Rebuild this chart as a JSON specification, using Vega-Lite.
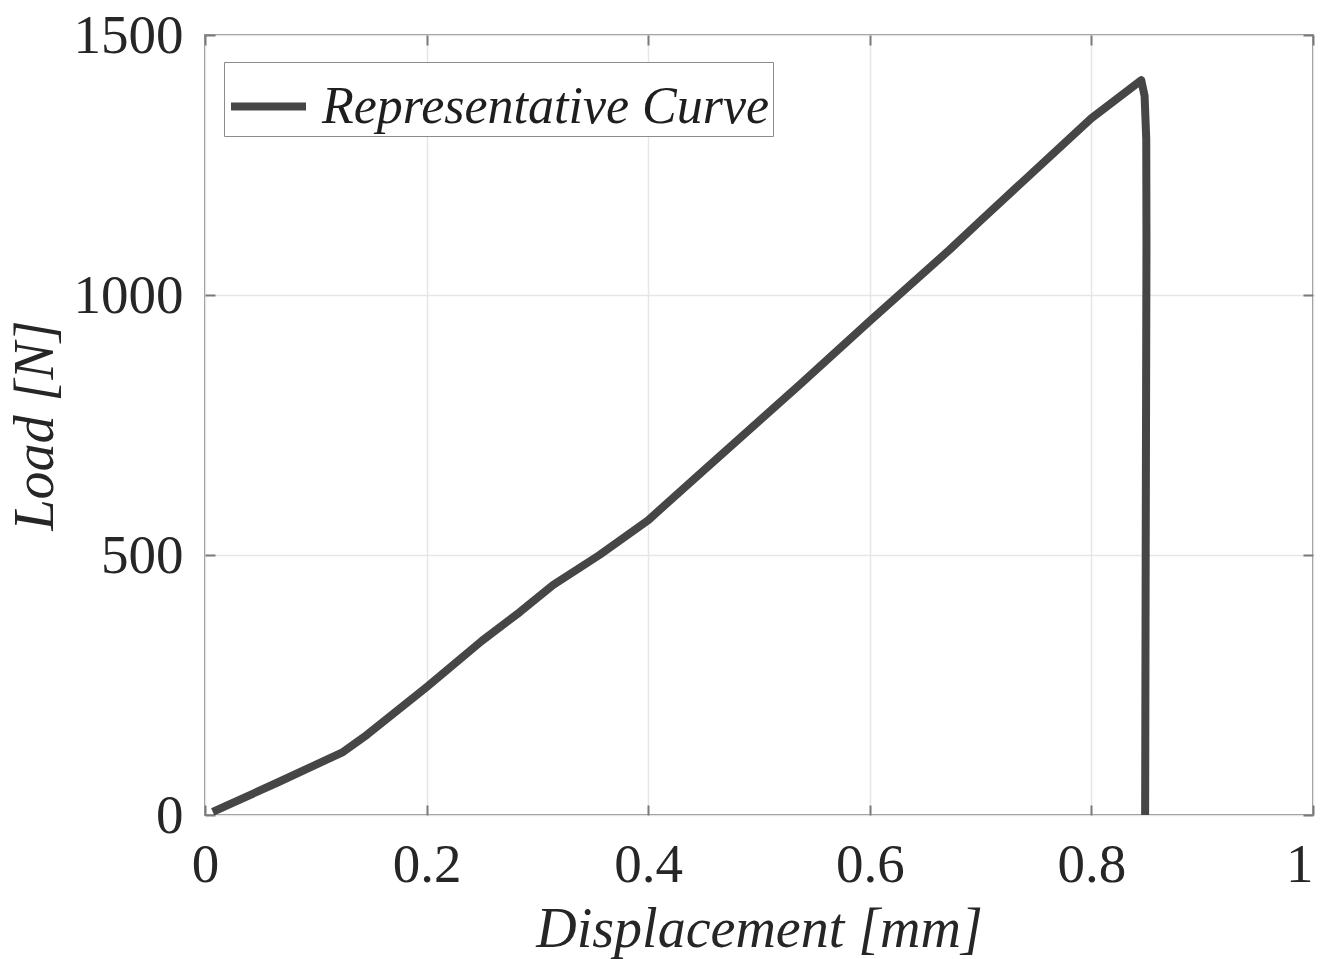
{
  "$schema": "https://vega.github.io/schema/vega-lite/v6.json",
  "width": 1108,
  "height": 780,
  "autosize": {"type": "none"},
  "padding": {"left": 205, "top": 35, "right": 9, "bottom": 144},
  "background": "white",
  "config": {
    "font": "Liberation Serif",
    "view": {"stroke": "#8c8c8c", "strokeWidth": 2}
  },
  "data": {
    "values": [
      {"i": 0, "displacement": 0.007, "load": 6, "series": "Representative Curve"},
      {"i": 1, "displacement": 0.065, "load": 62, "series": "Representative Curve"},
      {"i": 2, "displacement": 0.1245, "load": 121, "series": "Representative Curve"},
      {"i": 3, "displacement": 0.146, "load": 154, "series": "Representative Curve"},
      {"i": 4, "displacement": 0.2, "load": 246, "series": "Representative Curve"},
      {"i": 5, "displacement": 0.25, "load": 335, "series": "Representative Curve"},
      {"i": 6, "displacement": 0.284, "load": 390, "series": "Representative Curve"},
      {"i": 7, "displacement": 0.314, "load": 442, "series": "Representative Curve"},
      {"i": 8, "displacement": 0.356, "load": 500, "series": "Representative Curve"},
      {"i": 9, "displacement": 0.4, "load": 567, "series": "Representative Curve"},
      {"i": 10, "displacement": 0.446, "load": 655, "series": "Representative Curve"},
      {"i": 11, "displacement": 0.537, "load": 828, "series": "Representative Curve"},
      {"i": 12, "displacement": 0.6, "load": 950, "series": "Representative Curve"},
      {"i": 13, "displacement": 0.672, "load": 1087, "series": "Representative Curve"},
      {"i": 14, "displacement": 0.7, "load": 1143, "series": "Representative Curve"},
      {"i": 15, "displacement": 0.8, "load": 1340, "series": "Representative Curve"},
      {"i": 16, "displacement": 0.845, "load": 1413, "series": "Representative Curve"},
      {"i": 17, "displacement": 0.848, "load": 1383, "series": "Representative Curve"},
      {"i": 18, "displacement": 0.8495, "load": 1300, "series": "Representative Curve"},
      {"i": 19, "displacement": 0.8497, "load": 1100, "series": "Representative Curve"},
      {"i": 20, "displacement": 0.849, "load": 500, "series": "Representative Curve"},
      {"i": 21, "displacement": 0.8485, "load": 0, "series": "Representative Curve"}
    ]
  },
  "layer": [
    {
      "mark": {"type": "line", "strokeWidth": 8, "strokeJoin": "round", "clip": true},
      "encoding": {
        "x": {
          "field": "displacement",
          "type": "quantitative",
          "scale": {"domain": [0, 1], "nice": false, "zero": false},
          "axis": {
            "orient": "bottom",
            "title": "Displacement [mm]",
            "values": [0, 0.2, 0.4, 0.6, 0.8, 1],
            "format": ".1~f",
            "domain": false,
            "grid": true,
            "gridColor": "#e6e6e6",
            "gridWidth": 1.5,
            "ticks": true,
            "tickSize": -10,
            "tickWidth": 2,
            "tickColor": "#7a7a7a",
            "labelFont": "Liberation Serif",
            "labelFontSize": 55,
            "labelColor": "#262626",
            "labelPadding": 33,
            "labelFlush": false,
            "labelAlign": {"expr": "datum.value === 1 ? 'right' : 'center'"},
            "labelDx": {"expr": "datum.value === 1 ? 9 : 0"},
            "titleFont": "Liberation Serif",
            "titleFontStyle": "italic",
            "titleFontWeight": "normal",
            "titleFontSize": 56,
            "titleColor": "#262626",
            "titlePadding": 10
          }
        },
        "y": {
          "field": "load",
          "type": "quantitative",
          "scale": {"domain": [0, 1500], "nice": false},
          "axis": {
            "orient": "left",
            "title": "Load [N]",
            "values": [0, 500, 1000, 1500],
            "format": "d",
            "domain": false,
            "grid": true,
            "gridColor": "#e6e6e6",
            "gridWidth": 1.5,
            "ticks": true,
            "tickSize": -10,
            "tickWidth": 2,
            "tickColor": "#7a7a7a",
            "labelFont": "Liberation Serif",
            "labelFontSize": 55,
            "labelColor": "#262626",
            "labelPadding": 32,
            "labelFlush": false,
            "titleFont": "Liberation Serif",
            "titleFontStyle": "italic",
            "titleFontWeight": "normal",
            "titleFontSize": 56,
            "titleColor": "#262626",
            "titlePadding": 9
          }
        },
        "order": {"field": "i", "type": "quantitative"},
        "color": {
          "field": "series",
          "type": "nominal",
          "scale": {"range": ["#464646"]},
          "legend": {
            "title": null,
            "orient": "none",
            "legendX": 19,
            "legendY": 27,
            "symbolType": "stroke",
            "symbolSize": 5625,
            "symbolStrokeWidth": 8,
            "symbolStrokeColor": "#464646",
            "labelFont": "Liberation Serif",
            "labelFontStyle": "italic",
            "labelFontSize": 52,
            "labelColor": "#1e1e1e",
            "labelOffset": 12,
            "labelLimit": 0,
            "padding": 3,
            "strokeColor": "#8c8c8c",
            "fillColor": "white"
          }
        }
      }
    },
    {
      "mark": {"type": "point", "opacity": 0},
      "encoding": {
        "x": {
          "field": "displacement",
          "type": "quantitative",
          "axis": {
            "orient": "top",
            "title": null,
            "values": [0, 0.2, 0.4, 0.6, 0.8, 1],
            "labels": false,
            "domain": false,
            "grid": false,
            "tickSize": -10,
            "tickWidth": 2,
            "tickColor": "#7a7a7a"
          }
        },
        "y": {
          "field": "load",
          "type": "quantitative",
          "axis": {
            "orient": "right",
            "title": null,
            "values": [0, 500, 1000, 1500],
            "labels": false,
            "domain": false,
            "grid": false,
            "tickSize": -10,
            "tickWidth": 2,
            "tickColor": "#7a7a7a"
          }
        }
      }
    }
  ],
  "resolve": {"axis": {"x": "independent", "y": "independent"}}
}
